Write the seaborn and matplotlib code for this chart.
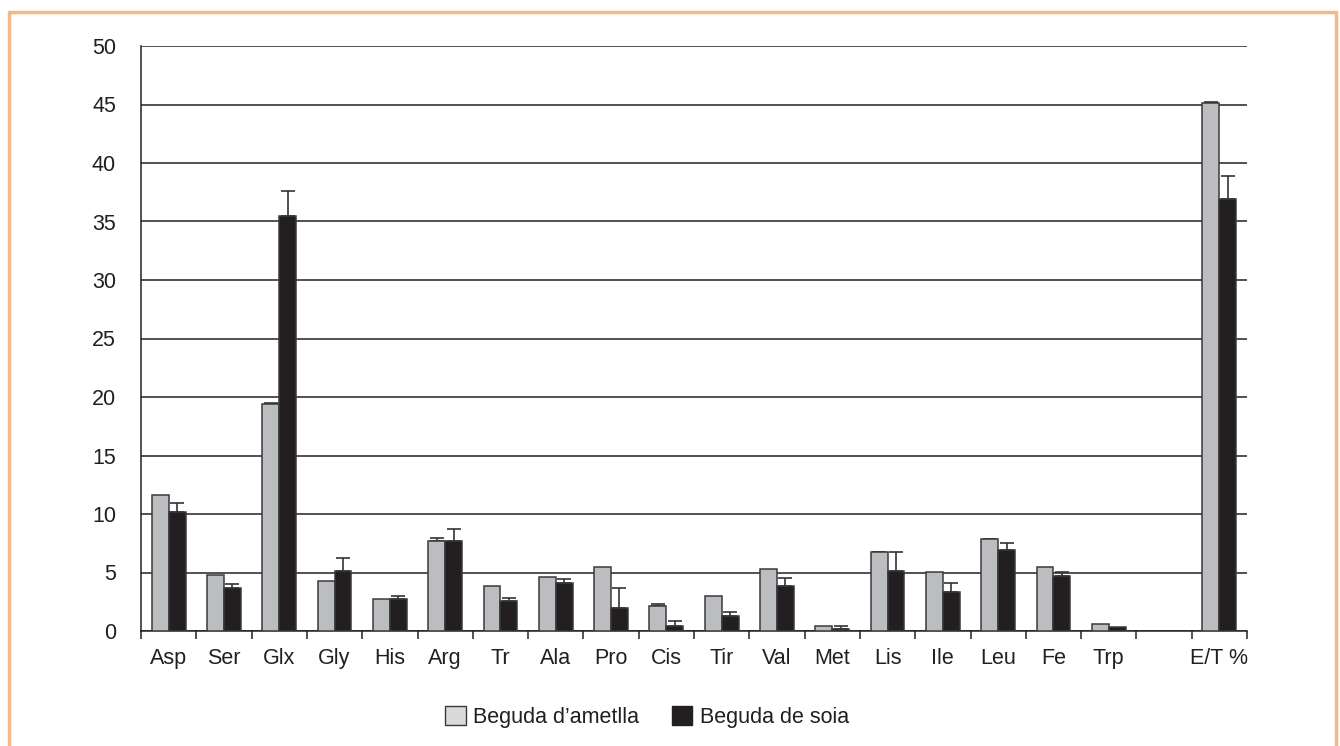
import matplotlib
matplotlib.use("Agg")
import matplotlib.pyplot as plt
from matplotlib.lines import Line2D
from matplotlib.patches import Patch
from matplotlib.container import BarContainer
import seaborn as sns
import pandas as pd
import numpy as np

categories = ["Asp", "Ser", "Glx", "Gly", "His", "Arg", "Tr", "Ala", "Pro", "Cis",
              "Tir", "Val", "Met", "Lis", "Ile", "Leu", "Fe", "Trp", " ", "E/T %"]
almond = [11.65, 4.82, 19.4, 4.31, 2.7, 7.7, 3.85, 4.6, 5.48, 2.14,
          2.97, 5.28, 0.43, 6.76, 5.08, 7.85, 5.48, 0.6, np.nan, 45.13]
almond_err = [0.0, 0.0, 0.1, 0.0, 0.0, 0.22, 0.0, 0.0, 0.0, 0.17,
              0.0, 0.0, 0.0, 0.03, 0.0, 0.05, 0.0, 0.0, np.nan, 0.1]
soy = [10.2, 3.65, 35.5, 5.1, 2.7, 7.7, 2.57, 4.06, 1.94, 0.43,
       1.28, 3.85, 0.2, 5.11, 3.37, 6.93, 4.71, 0.34, np.nan, 36.9]
soy_err = [0.71, 0.37, 2.1, 1.17, 0.33, 1.02, 0.26, 0.37, 1.74, 0.43,
           0.38, 0.66, 0.2, 1.63, 0.69, 0.58, 0.34, 0.0, np.nan, 2.0]
series = ["Beguda d\u2019ametlla", "Beguda de soia"]
yticks = [0, 5, 10, 15, 20, 25, 30, 35, 40, 45, 50]

gray = "#bcbdc0"
black = "#231f20"
edge = "#3a3a3a"
fs = 15.5

rows = []
for c, a, s in zip(categories, almond, soy):
    if not np.isnan(a):
        rows.append({"cat": c, "serie": series[0], "val": a})
    if not np.isnan(s):
        rows.append({"cat": c, "serie": series[1], "val": s})
df = pd.DataFrame(rows)

sns.set_theme(style="white")
plt.rcParams["font.family"] = ["Liberation Sans", "DejaVu Sans"]

fig = plt.figure(figsize=(13.4, 7.46), dpi=100)
ax = fig.add_axes([141/1340, 1 - 631/746, (1247 - 141)/1340, (631 - 46)/746])

sns.barplot(data=df, x="cat", y="val", hue="serie", order=categories,
            hue_order=series, palette=[gray, black], errorbar=None,
            width=0.61, ax=ax, legend=False, saturation=1,
            edgecolor=edge, linewidth=1.1, zorder=3)

errs = {0: almond_err, 1: soy_err}
bar_conts = [c for c in ax.containers if isinstance(c, BarContainer)]
for k, cont in enumerate(bar_conts):
    for p in list(cont.patches):
        cx = p.get_x() + p.get_width() / 2
        idx = int(round(cx))
        e = errs[k][idx]
        h = p.get_height()
        if np.isnan(h) or np.isnan(e) or e <= 0:
            continue
        ax.errorbar(cx, h, yerr=[[0], [e]], fmt="none", ecolor="#333333",
                    elinewidth=1.2, capsize=5, capthick=1.2, zorder=2)

ax.set_xlim(-0.5, len(categories) - 0.5)
ax.set_ylim(0, 50)
ax.set_yticks(yticks)
ax.set_yticklabels([str(t) for t in yticks])
ax.yaxis.grid(True, color="#222222", linewidth=1.1)
ax.set_axisbelow(True)
ax.set_xlabel("")
ax.set_ylabel("")

ax.set_xticks(np.arange(len(categories)))
ax.set_xticklabels(categories)
ax.set_xticks(np.arange(len(categories) + 1) - 0.5, minor=True)
ax.tick_params(axis="x", which="major", length=0, pad=12.5, labelsize=fs, colors="#231f20")
ax.tick_params(axis="x", which="minor", length=6, width=1.1, color="#222222", direction="out")
ax.tick_params(axis="y", which="major", length=8, width=1.1, color="#222222",
               direction="out", pad=10, labelsize=fs, labelcolor="#231f20")
ax.tick_params(axis="x", bottom=True, which="both")

for s in ["top", "right"]:
    ax.spines[s].set_visible(False)
for s in ["left", "bottom"]:
    ax.spines[s].set_visible(True)
    ax.spines[s].set_color("#222222")
    ax.spines[s].set_linewidth(1.1)

handles = [Patch(facecolor="#d9dadc", edgecolor=edge, linewidth=1.0),
           Patch(facecolor=black, edgecolor=black, linewidth=1.0)]
fig.legend(handles, series, loc="center", bbox_to_anchor=(647/1340, 1 - 717/746),
           ncol=2, frameon=False, fontsize=fs, handlelength=0.95, handleheight=0.95,
           handletextpad=0.35, columnspacing=1.5, labelcolor="#231f20")

orange = "#f5b887"
fig.add_artist(Line2D([9/1340, 9/1340], [0, 1 - 11.5/746], color=orange, lw=2.5,
                      transform=fig.transFigure))
fig.add_artist(Line2D([9/1340, 1336/1340], [1 - 11.5/746, 1 - 11.5/746], color=orange, lw=2.5,
                      transform=fig.transFigure))
fig.add_artist(Line2D([1336/1340, 1336/1340], [0, 1 - 11.5/746], color=orange, lw=2.5,
                      transform=fig.transFigure))

fig.savefig("out.png", dpi=100, facecolor="white")
